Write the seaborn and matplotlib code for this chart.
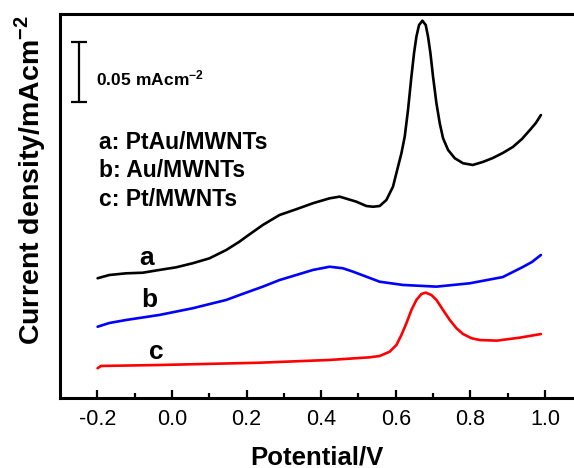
import matplotlib
matplotlib.use("Agg")
import matplotlib.pyplot as plt
import seaborn as sns
import pandas as pd
import numpy as np

# ---- data (potential in V, current density in mA cm^-2) ----
pot_a = [-0.1992, -0.1678, -0.1230, -0.0784, -0.0336, 0.0113, 0.0558, 0.1007, 0.1455, 0.1812,
         0.1992, 0.2438, 0.2886, 0.3334, 0.3780, 0.4228, 0.4497, 0.4945, 0.5213, 0.5391,
         0.5570, 0.5750, 0.5927, 0.6062, 0.6153, 0.6242, 0.6330, 0.6421, 0.6491, 0.6555,
         0.6625, 0.6716, 0.6805, 0.6867, 0.6931, 0.7001, 0.7092, 0.7181, 0.7270, 0.7404,
         0.7584, 0.7807, 0.8067, 0.8336, 0.8604, 0.8872, 0.9141, 0.9383, 0.9597, 0.9758,
         0.9893]
cur_a = [0.0998, 0.1025, 0.1039, 0.1044, 0.1067, 0.1089, 0.1123, 0.1164, 0.1233, 0.1303,
         0.1344, 0.1442, 0.1525, 0.1573, 0.1623, 0.1664, 0.1678, 0.1636, 0.1600, 0.1594,
         0.1600, 0.1650, 0.1761, 0.1928, 0.2039, 0.2178, 0.2400, 0.2678, 0.2873, 0.3011,
         0.3108, 0.3144, 0.3108, 0.3011, 0.2873, 0.2678, 0.2456, 0.2289, 0.2164, 0.2067,
         0.1998, 0.1956, 0.1942, 0.1967, 0.2000, 0.2042, 0.2092, 0.2158, 0.2233, 0.2292,
         0.2358]

pot_b = [-0.1992, -0.1678, -0.1230, -0.0336, 0.0558, 0.1455, 0.1893, 0.2438, 0.2886, 0.3334,
         0.3780, 0.4228, 0.4585, 0.4854, 0.5213, 0.5570, 0.6196, 0.7093, 0.7987, 0.8872,
         0.9141, 0.9409, 0.9651, 0.9893]
cur_b = [0.0594, 0.0625, 0.0650, 0.0692, 0.0748, 0.0817, 0.0867, 0.0928, 0.0983, 0.1025,
         0.1067, 0.1094, 0.1081, 0.1053, 0.1011, 0.0969, 0.0942, 0.0928, 0.0956, 0.1008,
         0.1050, 0.1092, 0.1133, 0.1192]

pot_c = [-0.1992, -0.1901, -0.0336, 0.2349, 0.4228, 0.5302, 0.5570, 0.5839, 0.6019, 0.6153,
         0.6287, 0.6421, 0.6555, 0.6690, 0.6805, 0.6958, 0.7093, 0.7270, 0.7450, 0.7630,
         0.7807, 0.8032, 0.8255, 0.8711, 0.9329, 0.9893]
cur_c = [0.0248, 0.0267, 0.0275, 0.0294, 0.0317, 0.0339, 0.0350, 0.0386, 0.0442, 0.0525,
         0.0623, 0.0733, 0.0817, 0.0867, 0.0878, 0.0858, 0.0817, 0.0733, 0.0650, 0.0581,
         0.0533, 0.0498, 0.0483, 0.0478, 0.0503, 0.0533]

series_keys = ["a", "b", "c"]
series_names = ["PtAu/MWNTs", "Au/MWNTs", "Pt/MWNTs"]
series_colors = ["#000000", "#0000ff", "#ff0000"]
xticks = [-0.2, 0.0, 0.2, 0.4, 0.6, 0.8, 1.0]
xtick_labels = ["-0.2", "0.0", "0.2", "0.4", "0.6", "0.8", "1.0"]
scale_value = 0.05  # mA cm^-2

df = pd.concat([
    pd.DataFrame({"Potential": pot_a, "Current": cur_a, "sample": "a"}),
    pd.DataFrame({"Potential": pot_b, "Current": cur_b, "sample": "b"}),
    pd.DataFrame({"Potential": pot_c, "Current": cur_c, "sample": "c"}),
], ignore_index=True)

sns.set_style("ticks")
plt.rcParams["font.family"] = ["Liberation Sans", "DejaVu Sans"]
plt.rcParams["mathtext.fontset"] = "custom"
plt.rcParams["mathtext.rm"] = "Liberation Sans"
plt.rcParams["mathtext.bf"] = "Liberation Sans:bold"
for key in ["text.color", "axes.labelcolor", "xtick.color", "ytick.color", "axes.edgecolor"]:
    plt.rcParams[key] = "black"

fig = plt.figure(figsize=(5.74, 4.68), dpi=100)
ax = fig.add_axes([60 / 574, 1 - 398 / 468, 1 - 60 / 574, 384 / 468])

sns.lineplot(data=df, x="Potential", y="Current", hue="sample",
             palette=dict(zip(series_keys, series_colors)), sort=False,
             linewidth=1.9, legend=False, ax=ax, estimator=None)
for ln in ax.lines:
    ln.set_solid_joinstyle("round")
    ln.set_solid_capstyle("round")

ax.set_xlim(-0.3, 1.078)
ax.set_ylim(0, 0.32)
ax.set_xticks(xticks)
ax.set_xticklabels(xtick_labels)
ax.set_xticks(np.arange(-0.1, 1.0, 0.2), minor=True)
ax.set_yticks([])
ax.tick_params(axis="x", which="major", direction="in", length=6, width=1.6,
               labelsize=15.5, pad=8)
ax.tick_params(axis="x", which="minor", direction="in", length=3.5, width=1.6)
for s in ["left", "bottom", "top"]:
    ax.spines[s].set_linewidth(2.2)
ax.spines["right"].set_visible(False)

ax.set_xlabel("Potential/V", fontsize=18.5, fontweight="bold", labelpad=11)
ax.set_ylabel(r"Current density/mAcm$^{\mathbf{-2}}$", fontsize=20.5,
              fontweight="bold")
ax.yaxis.set_label_coords(-0.058, 0.568)
ax.yaxis.label.set_va("center")

# scale bar
ax.errorbar([-0.248], [0.2717], yerr=[scale_value / 2], color="black",
            capsize=6, capthick=1.6, elinewidth=1.6, fmt="none")
ax.text(-0.203, 0.2667, r"$\mathbf{0.05\ mAcm^{-2}}$", fontsize=12.5,
        ha="left", va="center")

# legend text
for i, (k, n) in enumerate(zip(series_keys, series_names)):
    ax.text(-0.195, 0.2133 - i * 0.0238, f"{k}: {n}", fontsize=16.5,
            fontweight="bold", ha="left", va="center")

# curve labels
for k, (xx, yy) in zip(series_keys, [(-0.068, 0.1167), (-0.060, 0.0817), (-0.042, 0.0383)]):
    ax.text(xx, yy, k, fontsize=19, fontweight="bold", ha="center", va="center")

fig.savefig("out.png", dpi=100)
